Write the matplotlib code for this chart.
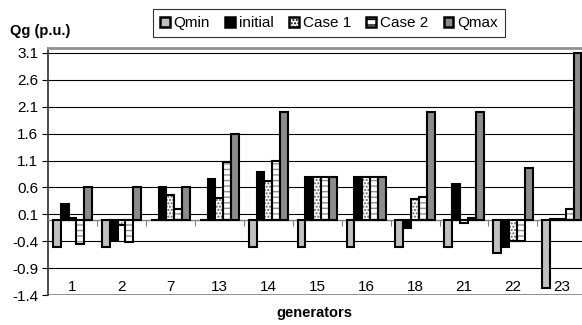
import numpy as np
import matplotlib
matplotlib.use("Agg")
import matplotlib.pyplot as plt
from matplotlib.patches import Patch

plt.rcParams['font.family'] = ['Liberation Sans', 'DejaVu Sans']

generators = ['1', '2', '7', '13', '14', '15', '16', '18', '21', '22', '23']
q_min   = [-0.5, -0.5, 0.0, 0.0, -0.5, -0.5, -0.5, -0.5, -0.5, -0.62, -1.27]
initial = [0.30, -0.37, 0.60, 0.75, 0.89, 0.80, 0.80, -0.15, 0.66, -0.51, 0.01]
case1   = [0.03, -0.10, 0.45, 0.40, 0.72, 0.80, 0.80, 0.39, -0.06, -0.39, 0.01]
case2   = [-0.45, -0.42, 0.20, 1.07, 1.09, 0.80, 0.80, 0.42, 0.03, -0.39, 0.20]
q_max   = [0.6, 0.6, 0.6, 1.6, 2.0, 0.8, 0.8, 2.0, 2.0, 0.97, 3.1]
series_names = ['Qmin', 'initial', 'Case 1', 'Case 2', 'Qmax']
y_ticks = [-1.4, -0.9, -0.4, 0.1, 0.6, 1.1, 1.6, 2.1, 2.6, 3.1]

fig = plt.figure(figsize=(5.82, 3.25), dpi=100)
ax = fig.add_axes([0.0825, 0.0923, 0.925, 0.7597])

x = np.arange(len(generators))
w = 0.16
series = [q_min, initial, case1, case2, q_max]
# face, hatch, hatch colour
styles = [('#c0c0c0', None, None),
          ('black', None, None),
          ('white', '.....', '#606060'),
          ('white', '---', '#909090'),
          ('#8c8c8c', None, None)]

for i, (vals, (fc, hatch, hc)) in enumerate(zip(series, styles)):
    pos = x + (i - 2) * w
    if hatch:
        ax.bar(pos, vals, w, color=fc, hatch=hatch, edgecolor=hc, linewidth=0, zorder=3)
        ax.bar(pos, vals, w, fill=False, edgecolor='black', linewidth=1.5, zorder=4)
    else:
        ax.bar(pos, vals, w, color=fc, edgecolor='black', linewidth=1.5, zorder=3)

ax.set_xlim(-0.5, len(generators) - 0.5)
ax.set_ylim(-1.4, 3.19)
ax.set_yticks(y_ticks)
ax.set_yticklabels([f'{v:.1f}' for v in y_ticks], fontsize=11)
ax.yaxis.grid(True, color='black', linewidth=0.8, zorder=0)
ax.tick_params(axis='y', direction='out', length=4, width=0.8, pad=3)

# category axis crosses at zero
ax.spines['bottom'].set_position(('data', 0))
ax.spines['bottom'].set_color('#808080')
ax.spines['bottom'].set_linewidth(1.0)
ax.set_xticks(np.arange(len(generators) + 1) - 0.5)
ax.set_xticklabels([])
ax.tick_params(axis='x', direction='out', length=4, width=0.8, color='#808080')
for xi, g in zip(x, generators):
    ax.text(xi, -1.38, g, ha='center', va='bottom', fontsize=11, zorder=5)

ax.spines['left'].set_color('#404040')
ax.spines['left'].set_linewidth(1.3)
ax.spines['top'].set_color('#909090')
ax.spines['top'].set_linewidth(2.0)
ax.spines['right'].set_visible(False)
ax.axhline(-1.4, color='#909090', linewidth=2.0, zorder=1)

fig.text(0.017, 0.905, 'Qg (p.u.)', fontsize=10.5, fontweight='bold', va='center')
fig.text(0.54, 0.037, 'generators', fontsize=10.5, fontweight='bold', ha='center', va='center')

handles = []
for name, (fc, hatch, hc) in zip(series_names, styles):
    handles.append(Patch(facecolor=fc, edgecolor='black', hatch=hatch, linewidth=1.8, label=name))
leg = fig.legend(handles=handles, loc='center', bbox_to_anchor=(0.565, 0.929), ncol=5,
                 frameon=True, fancybox=False, edgecolor='black', fontsize=11,
                 handlelength=0.65, handleheight=0.65, handletextpad=0.25,
                 columnspacing=1.0, borderpad=0.45, borderaxespad=0)
leg.get_frame().set_linewidth(0.8)

fig.savefig('out.png', dpi=100)
